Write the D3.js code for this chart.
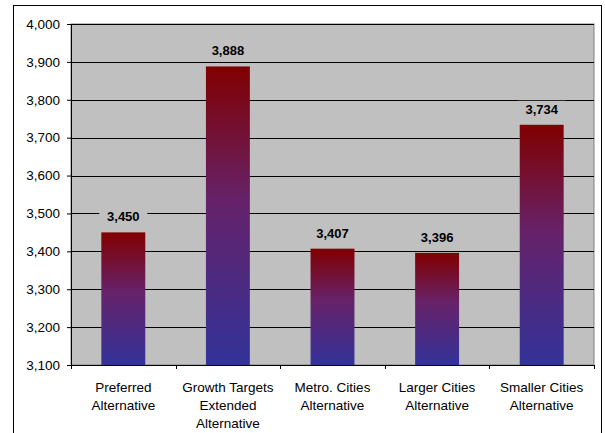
<!DOCTYPE html>
<html>
<head>
<meta charset="utf-8">
<style>
    body { margin: 0; background: #fff; }
    svg { display: block; font-family: Arial, 'Liberation Sans', sans-serif; }
    .y .tick text, .x-label { font-size: 13.5px; fill: #000; }
    .value { font-size: 13px; font-weight: bold; }
</style>
</head>
<body>
<svg width="605" height="433"></svg>
<script src="https://d3js.org/d3.v7.min.js"></script>
<script>
// data
let categories = [
    ["Preferred", "Alternative"],
    ["Growth Targets", "Extended", "Alternative"],
    ["Metro. Cities", "Alternative"],
    ["Larger Cities", "Alternative"],
    ["Smaller Cities", "Alternative"]
]
let values = [3450, 3888, 3407, 3396, 3734]
let yTicks = [3100, 3200, 3300, 3400, 3500, 3600, 3700, 3800, 3900, 4000]

let svg = d3.select("svg")
let margin = { top: 24, right: 11, bottom: 68, left: 71 }
let width = 605, height = 433

// outer frame
svg.append("rect")
    .attr("x", 13.5).attr("y", 5.5)
    .attr("width", 588).attr("height", 440)
    .attr("fill", "none").attr("stroke", "#000")

let x = d3.scaleBand()
    .domain(d3.range(values.length))
    .range([margin.left, width - margin.right])
    .paddingInner(0.58).paddingOuter(0.29)

let xOuter = d3.scaleBand()
    .domain(d3.range(values.length))
    .range([margin.left, width - margin.right])

let y = d3.scaleLinear()
    .domain([3100, 4000])
    .range([height - margin.bottom, margin.top])

// plot background
svg.append("rect")
    .attr("x", margin.left).attr("y", margin.top)
    .attr("width", width - margin.right - margin.left)
    .attr("height", y(3100) - margin.top)
    .attr("fill", "#c0c0c0")
    .attr("stroke", "#808080")

let defs = svg.append("defs")
let grad = defs.append("linearGradient")
    .attr("id", "barGrad")
    .attr("x1", 0).attr("y1", 0).attr("x2", 0).attr("y2", 1)
grad.append("stop").attr("offset", "0%").attr("stop-color", "#800000")
grad.append("stop").attr("offset", "45%").attr("stop-color", "#66226a")
grad.append("stop").attr("offset", "100%").attr("stop-color", "#333399")

// y axis + gridlines
svg.append("g")
    .attr("class", "y axis")
    .attr("transform", `translate(${margin.left},0)`)
    .call(d3.axisLeft(y).tickValues(yTicks).tickSize(4).tickPadding(7)
        .tickFormat(d3.format(",")))
    .call(g => g.select(".domain").remove())
    .call(g => g.selectAll(".tick line").attr("stroke", "#000"))

svg.append("g")
    .selectAll("line")
    .data(yTicks.slice(1))
    .join("line")
    .attr("x1", margin.left).attr("x2", width - margin.right)
    .attr("y1", d => Math.round(y(d)) + 0.5)
    .attr("y2", d => Math.round(y(d)) + 0.5)
    .attr("stroke", "#000")

// bars
svg.append("g")
    .selectAll("rect")
    .data(values)
    .join("rect")
    .attr("x", (d, i) => x(i))
    .attr("y", d => y(d))
    .attr("width", x.bandwidth())
    .attr("height", d => y(3100) - y(d))
    .attr("fill", "url(#barGrad)")

// value labels with gray backing to cut the gridlines
let labels = svg.append("g")
    .selectAll("g")
    .data(values)
    .join("g")
    .attr("transform", (d, i) => `translate(${x(i) + x.bandwidth() / 2},${y(d) - 11})`)

labels.append("rect")
    .attr("x", -24).attr("y", -13)
    .attr("width", 48).attr("height", 16)
    .attr("fill", "#c0c0c0")

labels.append("text")
    .attr("class", "value")
    .attr("text-anchor", "middle")
    .text(d => d3.format(",")(d))

// axes lines
svg.append("line")
    .attr("x1", margin.left + 0.5).attr("x2", margin.left + 0.5)
    .attr("y1", margin.top).attr("y2", y(3100))
    .attr("stroke", "#000")

svg.append("g")
    .attr("transform", `translate(0,${y(3100)})`)
    .call(d3.axisBottom(xOuter).tickValues([]).tickSizeOuter(0))
    .call(g => g.select(".domain").attr("stroke", "#000"))

svg.append("g")
    .selectAll("line")
    .data(d3.range(values.length + 1))
    .join("line")
    .attr("x1", i => Math.round(margin.left + i * xOuter.step()) + 0.5)
    .attr("x2", i => Math.round(margin.left + i * xOuter.step()) + 0.5)
    .attr("y1", y(3100)).attr("y2", y(3100) + 4)
    .attr("stroke", "#000")

// category labels
let cat = svg.append("g")
    .selectAll("text")
    .data(categories)
    .join("text")
    .attr("class", "x-label")
    .attr("text-anchor", "middle")
    .attr("x", (d, i) => xOuter(i) + xOuter.bandwidth() / 2)
    .attr("y", 392)

cat.selectAll("tspan")
    .data(d => d)
    .join("tspan")
    .attr("x", function () { return this.parentNode.getAttribute("x") })
    .attr("dy", (d, i) => i === 0 ? 0 : 18)
    .text(d => d)
</script>
</body>
</html>
